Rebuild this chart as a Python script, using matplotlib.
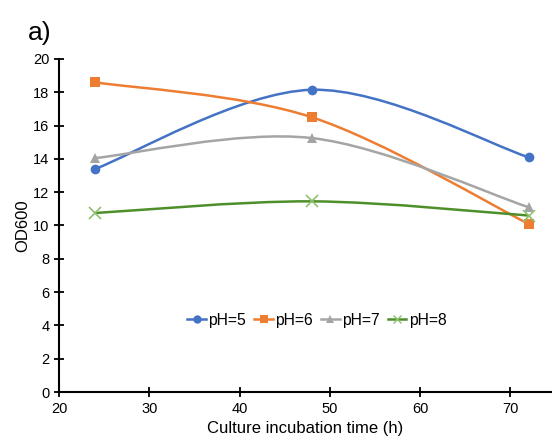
import matplotlib
matplotlib.use("Agg")
import matplotlib.pyplot as plt
from matplotlib.path import Path
from matplotlib.patches import PathPatch
from matplotlib.lines import Line2D

plt.rcParams['font.family'] = ['Liberation Sans', 'DejaVu Sans']

# data
hours = [24, 48, 72]
od_ph5 = [13.4, 18.15, 14.1]
od_ph6 = [18.6, 16.5, 10.1]
od_ph7 = [14.05, 15.25, 11.1]
od_ph8 = [10.75, 11.45, 10.6]

labels = ['pH=5', 'pH=6', 'pH=7', 'pH=8']
series = [od_ph5, od_ph6, od_ph7, od_ph8]
line_colors = ['#4472C4', '#ED7D31', '#A5A5A5', '#4E8F2A']
marker_colors = ['#4472C4', '#ED7D31', '#A5A5A5', '#8CC26E']
markers = ['o', 's', '^', 'x']


def smooth_path(xs, ys):
    """Excel-like smoothed line: Catmull-Rom segments as cubic Beziers."""
    pts = list(zip(xs, ys))
    verts = [pts[0]]
    codes = [Path.MOVETO]
    n = len(pts)
    for i in range(n - 1):
        p0 = pts[i - 1] if i > 0 else pts[i]
        p1 = pts[i]
        p2 = pts[i + 1]
        p3 = pts[i + 2] if i + 2 < n else pts[i + 1]
        c1 = (p1[0] + (p2[0] - p0[0]) / 6, p1[1] + (p2[1] - p0[1]) / 6)
        c2 = (p2[0] - (p3[0] - p1[0]) / 6, p2[1] - (p3[1] - p1[1]) / 6)
        verts += [c1, c2, p2]
        codes += [Path.CURVE4] * 3
    return Path(verts, codes)


fig = plt.figure(figsize=(5.52, 4.40), dpi=100)
ax = fig.add_axes([0.107, 0.109, 0.893, 0.757])

handles = []
for vals, lab, lc, mc, mk in zip(series, labels, line_colors, marker_colors, markers):
    ax.add_patch(PathPatch(smooth_path(hours, vals), facecolor='none',
                           edgecolor=lc, lw=1.8, zorder=2))
    ax.plot(hours, vals, linestyle='none', marker=mk, color=mc,
            markersize=7 if mk != 'x' else 8, markeredgewidth=1.2 if mk == 'x' else 0,
            zorder=3)
    handles.append(Line2D([], [], color=lc, lw=1.8, marker=mk, markerfacecolor=mc,
                          markeredgecolor=mc, markersize=6,
                          markeredgewidth=1.0 if mk == 'x' else 0, label=lab))

ax.set_xlim(20, 74.6)
ax.set_ylim(0, 20)
ax.set_xticks([20, 30, 40, 50, 60, 70])
ax.set_yticks(range(0, 21, 2))
ax.tick_params(direction='inout', length=7, width=1.3, labelsize=10.5, colors='black')
for side in ['top', 'right']:
    ax.spines[side].set_visible(False)
for side in ['left', 'bottom']:
    ax.spines[side].set_linewidth(1.5)

ax.set_xlabel('Culture incubation time (h)', fontsize=12, labelpad=4)
ax.set_ylabel('OD600', fontsize=12, labelpad=2)

ax.legend(handles=handles, loc='center', bbox_to_anchor=(0.523, 0.216), ncol=4,
          frameon=False, fontsize=11.3, handlelength=1.2, handletextpad=0.15,
          columnspacing=0.5)

fig.text(0.05, 0.909, 'a)', fontsize=19, va='baseline')

fig.savefig('out.png', dpi=100)
